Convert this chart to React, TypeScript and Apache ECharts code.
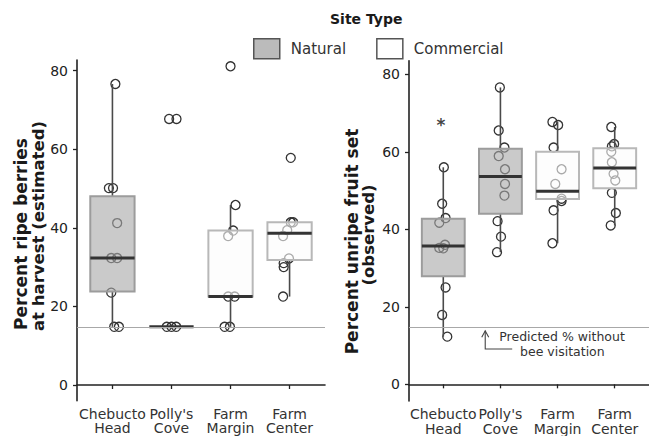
import React, { useEffect, useRef } from "react";
import * as echarts from "echarts";

// ---------- data ----------
const categories = ["Chebucto\nHead", "Polly's\nCove", "Farm\nMargin", "Farm\nCenter"];
const siteTypes = ["Natural", "Natural", "Commercial", "Commercial"];
const yTicks = [0, 20, 40, 60, 80];
const noBeeLevel = [14.8, 14.7];

// box stats per category: [low whisker, Q1, median, Q3, high whisker]
const ripeBoxes = [
  [14.8, 23.8, 32.3, 48.0, 76.6],
  [14.8, 14.8, 14.8, 14.8, 14.8],
  [14.8, 22.5, 22.5, 39.3, 45.8],
  [22.5, 31.8, 38.6, 41.4, 41.4],
];
const unripeBoxes = [
  [12.3, 27.9, 35.7, 42.7, 56.0],
  [34.1, 44.0, 53.6, 60.8, 76.6],
  [36.4, 47.8, 49.8, 60.0, 67.7],
  [41.0, 50.6, 55.8, 60.9, 66.4],
];

// observations: [category (1-based), horizontal jitter, value]
const ripePoints = [
  [1, 0.05, 76.6], [1, -0.06, 50.1], [1, 0.01, 50.1], [1, 0.08, 41.2], [1, -0.02, 32.3],
  [1, 0.08, 32.3], [1, -0.02, 23.5], [1, 0.03, 14.8], [1, 0.11, 14.8],
  [2, -0.04, 67.7], [2, 0.085, 67.7], [2, -0.08, 14.8], [2, 0.0, 14.8], [2, 0.08, 14.8],
  [3, 0.0, 81.1], [3, 0.085, 45.8], [3, 0.045, 39.3], [3, -0.04, 37.9], [3, -0.04, 22.5],
  [3, 0.07, 22.5], [3, -0.1, 14.8], [3, -0.01, 14.8],
  [4, 0.02, 57.8], [4, 0.02, 41.4], [4, 0.06, 41.4], [4, -0.04, 39.4], [4, -0.11, 37.9],
  [4, -0.01, 32.2], [4, -0.1, 31.0], [4, -0.1, 30.0], [4, -0.11, 22.5],
];
const unripePoints = [
  [1, 0.01, 56.0], [1, -0.02, 46.6], [1, 0.04, 42.9], [1, -0.07, 41.7], [1, 0.03, 36.0],
  [1, -0.07, 35.2], [1, 0.0, 35.1], [1, 0.04, 25.0], [1, -0.02, 17.9], [1, 0.07, 12.3],
  [2, -0.01, 76.6], [2, -0.03, 65.5], [2, 0.07, 61.1], [2, -0.03, 58.9], [2, 0.08, 55.5],
  [2, 0.08, 51.7], [2, 0.07, 48.7], [2, -0.05, 42.1], [2, 0.01, 38.1], [2, -0.06, 34.1],
  [3, -0.09, 67.7], [3, 0.01, 66.9], [3, -0.07, 61.1], [3, 0.07, 55.5], [3, -0.04, 51.7],
  [3, 0.07, 47.9], [3, 0.07, 47.3], [3, -0.07, 44.9], [3, -0.09, 36.4],
  [4, -0.06, 66.4], [4, -0.01, 62.0], [4, -0.05, 61.4], [4, -0.06, 60.0], [4, -0.05, 57.3],
  [4, -0.02, 54.3], [4, 0.01, 52.6], [4, -0.05, 49.4], [4, 0.02, 44.2], [4, -0.07, 41.0],
];

// significance mark (right panel): [x, y]
const asteriskPos = [0.96, 67.0];
// annotation: [arrow x, arrow tip y, elbow y, elbow end x, text1 x, text1 y, text2 x, text2 y]
const annotationPos = [1.734, 13.8, 9.1, 2.206, 1.98, 12.4, 2.343, 8.6];
const annotationText = ["Predicted % without", "bee visitation"];

// ---------- styles ----------
const FONT = "DejaVu Sans";
const BOX_WIDTH = 0.75;
const boxFill: Record<string, string> = {
  Natural: "rgba(167,167,167,0.6)",
  Commercial: "rgba(251,251,251,0.6)",
};
const boxStroke: Record<string, string> = {
  Natural: "#9c9c9c",
  Commercial: "#b8b8b8",
};

function boxRenderer(type: string) {
  return (params: any, api: any) => {
    const x = api.value(0);
    const low = api.value(1);
    const q1 = api.value(2);
    const med = api.value(3);
    const q3 = api.value(4);
    const high = api.value(5);
    const h = BOX_WIDTH / 2;
    const pLow = api.coord([x, low]);
    const pQ1 = api.coord([x, q1]);
    const pQ3 = api.coord([x, q3]);
    const pHigh = api.coord([x, high]);
    const tl = api.coord([x - h, q3]);
    const br = api.coord([x + h, q1]);
    const ml = api.coord([x - h, med]);
    const mr = api.coord([x + h, med]);
    const children: any[] = [];
    children.push({
      type: "line",
      shape: { x1: pLow[0], y1: pLow[1], x2: pQ1[0], y2: pQ1[1] },
      style: { stroke: "#4a4a4a", lineWidth: 1.6 },
    });
    children.push({
      type: "line",
      shape: { x1: pQ3[0], y1: pQ3[1], x2: pHigh[0], y2: pHigh[1] },
      style: { stroke: "#4a4a4a", lineWidth: 1.6 },
    });
    if (br[1] - tl[1] > 0.5) {
      children.push({
        type: "rect",
        shape: { x: tl[0], y: tl[1], width: br[0] - tl[0], height: br[1] - tl[1] },
        style: { fill: boxFill[type], stroke: boxStroke[type], lineWidth: 2 },
      });
    }
    children.push({
      type: "line",
      shape: { x1: ml[0], y1: ml[1], x2: mr[0], y2: mr[1] },
      style: { stroke: "#333", lineWidth: 3 },
    });
    return { type: "group", children };
  };
}

function boxSeries(type: string, boxes: number[][], idx: number) {
  const data = boxes
    .map((b, i) => ({ b, i }))
    .filter((d) => siteTypes[d.i] === type)
    .map((d) => [d.i + 1, ...d.b]);
  return {
    type: "custom",
    name: type,
    xAxisIndex: idx,
    yAxisIndex: idx,
    z: 3,
    itemStyle: { color: type === "Natural" ? "#bbbbbb" : "#ffffff", borderColor: "#555" },
    encode: { x: 0, y: [1, 2, 3, 4, 5] },
    renderItem: boxRenderer(type),
    data,
  };
}

function pointSeries(points: number[][], idx: number) {
  return {
    type: "scatter",
    xAxisIndex: idx,
    yAxisIndex: idx,
    z: 2,
    symbol: "circle",
    symbolSize: 9,
    itemStyle: { color: "rgba(0,0,0,0)", borderColor: "#333", borderWidth: 1.3, opacity: 1 },
    data: points.map((p) => [p[0] + p[1], p[2]]),
    markLine: {
      silent: true,
      symbol: ["none", "none"],
      label: { show: false },
      lineStyle: { color: "#a8a8a8", width: 1, type: "solid" },
      data: [{ yAxis: noBeeLevel[idx] }],
    },
  };
}

function xAxis(idx: number) {
  return {
    type: "value",
    gridIndex: idx,
    min: 0.4,
    max: 4.6,
    splitLine: { show: false },
    axisLine: { show: true, lineStyle: { color: "#222", width: 1.6 } },
    axisTick: { show: true, customValues: [1, 2, 3, 4], length: 4, lineStyle: { color: "#222", width: 1.3 } },
    axisLabel: {
      customValues: [1, 2, 3, 4],
      formatter: (v: number) => categories[Math.round(v) - 1],
      color: "#333",
      fontSize: 14,
      lineHeight: 14.5,
      margin: 6,
      fontFamily: FONT,
      align: "center",
    },
  };
}

function yAxis(idx: number, min: number, max: number) {
  return {
    type: "value",
    gridIndex: idx,
    min,
    max,
    splitLine: { show: false },
    axisLine: { show: true, lineStyle: { color: "#222", width: 1.6 } },
    axisTick: { show: true, customValues: yTicks, length: 4, lineStyle: { color: "#222", width: 1.3 } },
    axisLabel: { customValues: yTicks, color: "#222", fontSize: 14, margin: 9, fontFamily: FONT },
  };
}

export default function App() {
  const ref = useRef<HTMLDivElement>(null);
  useEffect(() => {
    if (!ref.current) return;
    const chart = echarts.init(ref.current, undefined, { renderer: "svg" });
    const option: any = {
      animation: false,
      textStyle: { fontFamily: FONT },
      title: {
        text: "Site Type",
        left: 330,
        top: 12,
        padding: 0,
        textStyle: { fontSize: 14, fontWeight: "bold", color: "#1a1a1a", fontFamily: FONT },
      },
      legend: {
        left: 253,
        top: 38,
        padding: 0,
        itemWidth: 26,
        itemHeight: 20,
        itemGap: 30,
        icon: "rect",
        selectedMode: false,
        textStyle: { fontSize: 15, color: "#333", fontFamily: FONT, padding: [0, 0, 0, 6] },
        data: [
          { name: "Natural", itemStyle: { color: "#bbbbbb", borderColor: "#555", borderWidth: 1.5 } },
          { name: "Commercial", itemStyle: { color: "#ffffff", borderColor: "#555", borderWidth: 1.5 } },
        ],
      },
      grid: [
        { left: 77, top: 60, width: 248, height: 340.7 },
        { left: 409, top: 60.7, width: 246, height: 343.3 },
      ],
      xAxis: [xAxis(0), xAxis(1)],
      yAxis: [yAxis(0, -4, 82.7), yAxis(1, -4.3, 83.5)],
      series: [
        pointSeries(ripePoints, 0),
        boxSeries("Natural", ripeBoxes, 0),
        boxSeries("Commercial", ripeBoxes, 0),
        pointSeries(unripePoints, 1),
        boxSeries("Natural", unripeBoxes, 1),
        boxSeries("Commercial", unripeBoxes, 1),
        {
          type: "scatter",
          xAxisIndex: 1,
          yAxisIndex: 1,
          symbol: "circle",
          symbolSize: 0,
          z: 4,
          itemStyle: { color: "#222" },
          data: [asteriskPos],
          label: {
            show: true,
            position: "inside",
            formatter: "*",
            fontSize: 17,
            fontWeight: "bold",
            color: "#111",
            textBorderWidth: 0,
            fontFamily: FONT,
          },
        },
        {
          type: "custom",
          xAxisIndex: 1,
          yAxisIndex: 1,
          z: 4,
          silent: true,
          encode: { x: [0, 3, 4, 6], y: [1, 2, 5, 7] },
          data: [annotationPos],
          renderItem: (params: any, api: any) => {
            const ax = api.value(0);
            const tipY = api.value(1);
            const elbowY = api.value(2);
            const endX = api.value(3);
            const tip = api.coord([ax, tipY]);
            const elbow = api.coord([ax, elbowY]);
            const end = api.coord([endX, elbowY]);
            const t1 = api.coord([api.value(4), api.value(5)]);
            const t2 = api.coord([api.value(6), api.value(7)]);
            const stroke = { stroke: "#444", lineWidth: 1.1, fill: null };
            return {
              type: "group",
              children: [
                { type: "polyline", shape: { points: [tip, elbow, end] }, style: stroke },
                {
                  type: "polyline",
                  shape: { points: [[tip[0] - 3.5, tip[1] + 6.5], tip, [tip[0] + 3.5, tip[1] + 6.5]] },
                  style: stroke,
                },
                {
                  type: "text",
                  x: t1[0],
                  y: t1[1],
                  style: { text: annotationText[0], fill: "#333", fontSize: 12.5, lineHeight: 12, fontFamily: FONT, align: "left", verticalAlign: "middle" },
                },
                {
                  type: "text",
                  x: t2[0],
                  y: t2[1],
                  style: { text: annotationText[1], fill: "#333", fontSize: 12.5, lineHeight: 12, fontFamily: FONT, align: "left", verticalAlign: "middle" },
                },
              ],
            };
          },
        },
      ],
      graphic: [
        {
          type: "text",
          x: 21,
          y: 234,
          rotation: Math.PI / 2,
          style: { text: "Percent ripe berries", fill: "#1a1a1a", font: `bold 17px "${FONT}"`, align: "center", verticalAlign: "middle" },
        },
        {
          type: "text",
          x: 38,
          y: 226,
          rotation: Math.PI / 2,
          style: { text: "at harvest (estimated)", fill: "#1a1a1a", font: `bold 16.5px "${FONT}"`, align: "center", verticalAlign: "middle" },
        },
        {
          type: "text",
          x: 351.5,
          y: 241.5,
          rotation: Math.PI / 2,
          style: { text: "Percent unripe fruit set", fill: "#1a1a1a", font: `bold 17px "${FONT}"`, align: "center", verticalAlign: "middle" },
        },
        {
          type: "text",
          x: 368,
          y: 235,
          rotation: Math.PI / 2,
          style: { text: "(observed)", fill: "#1a1a1a", font: `bold 16.5px "${FONT}"`, align: "center", verticalAlign: "middle" },
        },
      ],
    };
    chart.setOption(option);
    return () => chart.dispose();
  }, []);
  return (
    <div
      ref={ref}
      style={{ position: "fixed", left: 0, top: 0, width: 649, height: 436, background: "#fff" }}
    />
  );
}
